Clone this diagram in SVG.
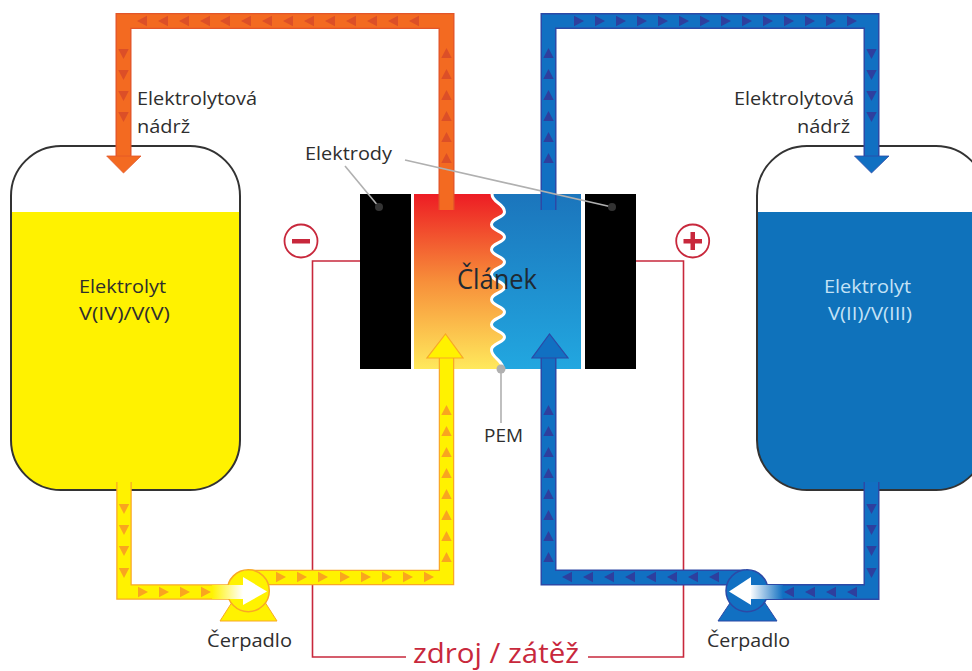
<svg xmlns="http://www.w3.org/2000/svg" width="972" height="671" viewBox="0 0 972 671">
<style>
text{font-family:"Open Sans","Noto Sans","Liberation Sans",sans-serif;font-size:19px;fill:#2e2e2e}
.e{fill:none;stroke-miterlimit:10}
.oe{stroke:#e2552a;stroke-width:16}.om{stroke:#f36a21;stroke-width:13.5}
.ye{stroke:#f9a825;stroke-width:15.5}.ym{stroke:#fff200;stroke-width:13}
.be{stroke:#2c49a6;stroke-width:16}.bm{stroke:#1170c2;stroke-width:13}
.ot{fill:#dc4f27}.yt{fill:#f9a51f}.bt{fill:#2e3f9e}
.lead{stroke:#b0b0b0;stroke-width:1.6;fill:none}
.wire{stroke:#c8283c;stroke-width:1.6;fill:none}
.sign{fill:#fff;stroke:#c8283c;stroke-width:1.8}
.mark{fill:#c8283c}
</style>
<defs>
<path id="t" d="M-5,-5.2L5,0L-5,5.2Z"/>
<linearGradient id="gy" gradientUnits="userSpaceOnUse" x1="0" y1="146" x2="0" y2="490"><stop offset=".192" stop-color="#fff"/><stop offset=".192" stop-color="#fff200"/></linearGradient>
<linearGradient id="gb" gradientUnits="userSpaceOnUse" x1="0" y1="146" x2="0" y2="490"><stop offset=".192" stop-color="#fff"/><stop offset=".192" stop-color="#0f72bb"/></linearGradient>
<linearGradient id="gl" x1="0" y1="0" x2="0" y2="1"><stop offset="0" stop-color="#ed1c24"/><stop offset=".5" stop-color="#f78f3a"/><stop offset="1" stop-color="#ffe95c"/></linearGradient>
<linearGradient id="gr" x1="0" y1="0" x2="0" y2="1"><stop offset="0" stop-color="#1b75bc"/><stop offset="1" stop-color="#22a7e0"/></linearGradient>
<linearGradient id="py" gradientUnits="userSpaceOnUse" x1="212" y1="0" x2="243" y2="0"><stop offset="0" stop-color="#fff200"/><stop offset="1" stop-color="#fff"/></linearGradient>
<linearGradient id="pb" gradientUnits="userSpaceOnUse" x1="783" y1="0" x2="750" y2="0"><stop offset="0" stop-color="#1170c2"/><stop offset="1" stop-color="#fff"/></linearGradient>
</defs>

<g id="tank-left">
<rect x="11" y="146" width="229" height="344" rx="50" fill="url(#gy)" stroke="#333" stroke-width="2"/>
<text x="79" y="293" textLength="87" lengthAdjust="spacingAndGlyphs">Elektrolyt</text>
<text x="79" y="320" textLength="91" lengthAdjust="spacingAndGlyphs">V(IV)/V(V)</text>
</g>
<g id="tank-right">
<rect x="757" y="146" width="229" height="344" rx="50" fill="url(#gb)" stroke="#333" stroke-width="2"/>
<text x="824" y="293" textLength="87" lengthAdjust="spacingAndGlyphs" style="fill:#c4e2f6">Elektrolyt</text>
<text x="828" y="320" textLength="84" lengthAdjust="spacingAndGlyphs" style="fill:#c4e2f6">V(II)/V(III)</text>
</g>

<g id="cell">
<rect x="414" y="194" width="91" height="175" fill="url(#gl)"/>
<path id="cell-right" d="M492,194C492,203 504.5,203 504.5,212C504.5,218 491.5,218 491.5,224.500C491.5,231 504.5,231 504.5,237C504.5,243 491.5,243 491.5,249.500C491.5,256 504.5,256 504.5,262C504.5,268 491.5,268 491.5,274.500C491.5,281 504.5,281 504.5,287C504.5,293 491.5,293 491.5,299.500C491.5,306 504.5,306 504.5,312C504.5,318 491.5,318 491.5,324.500C491.5,331 504.5,331 504.5,337C504.5,343 491.5,343 491.5,350C491.5,358 503,360 503,369H581V194Z" fill="url(#gr)"/>
<path d="M492,194C492,203 504.5,203 504.5,212C504.5,218 491.5,218 491.5,224.500C491.5,231 504.5,231 504.5,237C504.5,243 491.5,243 491.5,249.500C491.5,256 504.5,256 504.5,262C504.5,268 491.5,268 491.5,274.500C491.5,281 504.5,281 504.5,287C504.5,293 491.5,293 491.5,299.500C491.5,306 504.5,306 504.5,312C504.5,318 491.5,318 491.5,324.500C491.5,331 504.5,331 504.5,337C504.5,343 491.5,343 491.5,350C491.5,358 503,360 503,369" fill="none" stroke="#fff" stroke-width="3"/>
<text x="457" y="289" textLength="80" lengthAdjust="spacingAndGlyphs" style="font-size:28px;fill:#1f2a33">Článek</text>
</g>
<g id="electrode-left"><rect x="360" y="194" width="51" height="175" fill="#000"/></g>
<g id="electrode-right"><rect x="585" y="194" width="51" height="175" fill="#000"/></g>

<g id="connectors">
<path class="wire" d="M360,261H312.500V657H406"/>
<path class="wire" d="M636,261H683.500V657H588"/>

<path class="e oe" d="M123.500,156V21H446.500V210"/>
<path class="e om" d="M123.500,157V21H446.500V210"/>
<polygon points="106.700,156 141,156 123.500,173" fill="#f36a21" stroke="#e2552a" stroke-width=".8"/>
<g class="ot">
<use href="#t" transform="translate(142,21) rotate(180)"/><use href="#t" transform="translate(163,21) rotate(180)"/><use href="#t" transform="translate(184,21) rotate(180)"/><use href="#t" transform="translate(205,21) rotate(180)"/><use href="#t" transform="translate(225,21) rotate(180)"/><use href="#t" transform="translate(246,21) rotate(180)"/><use href="#t" transform="translate(267,21) rotate(180)"/><use href="#t" transform="translate(288,21) rotate(180)"/><use href="#t" transform="translate(309,21) rotate(180)"/><use href="#t" transform="translate(330,21) rotate(180)"/><use href="#t" transform="translate(351,21) rotate(180)"/><use href="#t" transform="translate(372,21) rotate(180)"/><use href="#t" transform="translate(393,21) rotate(180)"/><use href="#t" transform="translate(414,21) rotate(180)"/>
<use href="#t" transform="translate(123.500,54) rotate(90)"/><use href="#t" transform="translate(123.500,75) rotate(90)"/><use href="#t" transform="translate(123.500,96) rotate(90)"/><use href="#t" transform="translate(123.500,117) rotate(90)"/>
<use href="#t" transform="translate(446.500,53) rotate(-90)"/><use href="#t" transform="translate(446.500,74) rotate(-90)"/><use href="#t" transform="translate(446.500,95) rotate(-90)"/><use href="#t" transform="translate(446.500,116) rotate(-90)"/><use href="#t" transform="translate(446.500,137) rotate(-90)"/><use href="#t" transform="translate(446.500,158) rotate(-90)"/>
</g>

<path class="e be" d="M548.500,210V21H871.500V156"/>
<path class="e bm" d="M548.500,210V21H871.500V157"/>
<polygon points="854.500,156 889,156 871.500,173" fill="#1170c2" stroke="#2c49a6" stroke-width=".8"/>
<g class="bt">
<use href="#t" transform="translate(579,21)"/><use href="#t" transform="translate(600,21)"/><use href="#t" transform="translate(621,21)"/><use href="#t" transform="translate(642,21)"/><use href="#t" transform="translate(663,21)"/><use href="#t" transform="translate(684,21)"/><use href="#t" transform="translate(705,21)"/><use href="#t" transform="translate(726,21)"/><use href="#t" transform="translate(747,21)"/><use href="#t" transform="translate(768,21)"/><use href="#t" transform="translate(789,21)"/><use href="#t" transform="translate(810,21)"/><use href="#t" transform="translate(831,21)"/><use href="#t" transform="translate(852,21)"/>
<use href="#t" transform="translate(871.500,54) rotate(90)"/><use href="#t" transform="translate(871.500,75) rotate(90)"/><use href="#t" transform="translate(871.500,96) rotate(90)"/><use href="#t" transform="translate(871.500,117) rotate(90)"/>
<use href="#t" transform="translate(548.500,53) rotate(-90)"/><use href="#t" transform="translate(548.500,74) rotate(-90)"/><use href="#t" transform="translate(548.500,95) rotate(-90)"/><use href="#t" transform="translate(548.500,116) rotate(-90)"/><use href="#t" transform="translate(548.500,137) rotate(-90)"/><use href="#t" transform="translate(548.500,158) rotate(-90)"/>
</g>

<path class="e ye" d="M124,482V592H250"/>
<path class="e ym" d="M124,482V592H250"/>
<path class="e ye" d="M250,577.500H446.500V355"/>
<path class="e ym" d="M250,577.500H446.500V355"/>
<polygon points="427,358 463,358 445.500,334" fill="#fff200" stroke="#f9a825" stroke-width="1.2"/>
<g class="yt">
<use href="#t" transform="translate(124,509) rotate(90)"/><use href="#t" transform="translate(124,530) rotate(90)"/><use href="#t" transform="translate(124,551) rotate(90)"/><use href="#t" transform="translate(124,573) rotate(90)"/>
<use href="#t" transform="translate(143,592)"/><use href="#t" transform="translate(164,592)"/><use href="#t" transform="translate(185,592)"/><use href="#t" transform="translate(206,592)"/>
<use href="#t" transform="translate(281,577)"/><use href="#t" transform="translate(302,577)"/><use href="#t" transform="translate(323,577)"/><use href="#t" transform="translate(345,577)"/><use href="#t" transform="translate(366,577)"/><use href="#t" transform="translate(387,577)"/><use href="#t" transform="translate(408,577)"/><use href="#t" transform="translate(429,577)"/>
<use href="#t" transform="translate(446.500,557) rotate(-90)"/><use href="#t" transform="translate(446.500,536) rotate(-90)"/><use href="#t" transform="translate(446.500,515) rotate(-90)"/><use href="#t" transform="translate(446.500,494) rotate(-90)"/><use href="#t" transform="translate(446.500,473) rotate(-90)"/><use href="#t" transform="translate(446.500,452) rotate(-90)"/><use href="#t" transform="translate(446.500,431) rotate(-90)"/><use href="#t" transform="translate(446.500,410) rotate(-90)"/>
</g>

<path class="e be" d="M871.500,482V592H745"/>
<path class="e bm" d="M871.500,482V592H745"/>
<path class="e be" d="M745,577.500H548.500V355"/>
<path class="e bm" d="M745,577.500H548.500V355"/>
<polygon points="532,358 568,358 549.500,334" fill="#1170c2" stroke="#2c49a6" stroke-width="1.2"/>
<g class="bt">
<use href="#t" transform="translate(871.500,509) rotate(90)"/><use href="#t" transform="translate(871.500,530) rotate(90)"/><use href="#t" transform="translate(871.500,551) rotate(90)"/><use href="#t" transform="translate(871.500,573) rotate(90)"/>
<use href="#t" transform="translate(789,592) rotate(180)"/><use href="#t" transform="translate(810,592) rotate(180)"/><use href="#t" transform="translate(831,592) rotate(180)"/><use href="#t" transform="translate(852,592) rotate(180)"/>
<use href="#t" transform="translate(567,577) rotate(180)"/><use href="#t" transform="translate(588,577) rotate(180)"/><use href="#t" transform="translate(609,577) rotate(180)"/><use href="#t" transform="translate(630,577) rotate(180)"/><use href="#t" transform="translate(651,577) rotate(180)"/><use href="#t" transform="translate(672,577) rotate(180)"/><use href="#t" transform="translate(693,577) rotate(180)"/><use href="#t" transform="translate(714,577) rotate(180)"/>
<use href="#t" transform="translate(548.500,557) rotate(-90)"/><use href="#t" transform="translate(548.500,536) rotate(-90)"/><use href="#t" transform="translate(548.500,515) rotate(-90)"/><use href="#t" transform="translate(548.500,494) rotate(-90)"/><use href="#t" transform="translate(548.500,473) rotate(-90)"/><use href="#t" transform="translate(548.500,452) rotate(-90)"/><use href="#t" transform="translate(548.500,431) rotate(-90)"/><use href="#t" transform="translate(548.500,410) rotate(-90)"/>
</g>

<path class="lead" d="M345,166L379,207"/>
<path class="lead" d="M405,160L612,207"/>
<path class="lead" d="M501,369V423"/>
<circle cx="379" cy="207" r="4" fill="#333"/>
<circle cx="612" cy="207" r="4" fill="#333"/>
<circle cx="501" cy="369" r="4.500" fill="#b0b0b0"/>
</g>

<g id="pump-left">
<polygon points="220,621 277,621 254,585 243,585" fill="#fff200" stroke="#f9a825" stroke-width="1"/>
<circle cx="248.300" cy="590.700" r="21" fill="#fff200" stroke="#f9a825" stroke-width="1.500"/>
<rect x="212" y="585" width="32" height="14" fill="url(#py)"/>
<polygon points="243,577 243,605 267,591.500" fill="#fff"/>
<text x="207" y="647" textLength="85" lengthAdjust="spacingAndGlyphs">Čerpadlo</text>
</g>
<g id="pump-right">
<polygon points="718,621 777,621 753,585 742,585" fill="#1170c2" stroke="#2c49a6" stroke-width="1"/>
<circle cx="747" cy="590.700" r="21" fill="#1170c2" stroke="#2c49a6" stroke-width="1.500"/>
<rect x="750" y="585" width="33" height="14" fill="url(#pb)"/>
<polygon points="751,577 751,605 729,591.500" fill="#fff"/>
<text x="707" y="647" textLength="83" lengthAdjust="spacingAndGlyphs">Čerpadlo</text>
</g>

<g id="sign-minus"><circle class="sign" cx="301" cy="241" r="16.500"/><rect class="mark" x="292" y="239" width="18" height="4.500"/></g>
<g id="sign-plus"><circle class="sign" cx="692.700" cy="241" r="16.500"/><path class="mark" d="M690.500,232H695V239H702V243.500H695V250H690.500V243.500H683.500V239H690.500Z"/></g>

<g id="labels">
<text x="137" y="105" textLength="120" lengthAdjust="spacingAndGlyphs">Elektrolytová</text>
<text x="137" y="133" textLength="53" lengthAdjust="spacingAndGlyphs">nádrž</text>
<text x="734" y="105" textLength="120" lengthAdjust="spacingAndGlyphs">Elektrolytová</text>
<text x="797" y="133" textLength="53" lengthAdjust="spacingAndGlyphs">nádrž</text>
<text x="305" y="160" textLength="87" lengthAdjust="spacingAndGlyphs">Elektrody</text>
<text x="484" y="442" textLength="39" lengthAdjust="spacingAndGlyphs">PEM</text>
<text x="413" y="663" textLength="166" lengthAdjust="spacingAndGlyphs" style="font-size:26.500px;fill:#c8283c">zdroj / zátěž</text>
</g>
</svg>
